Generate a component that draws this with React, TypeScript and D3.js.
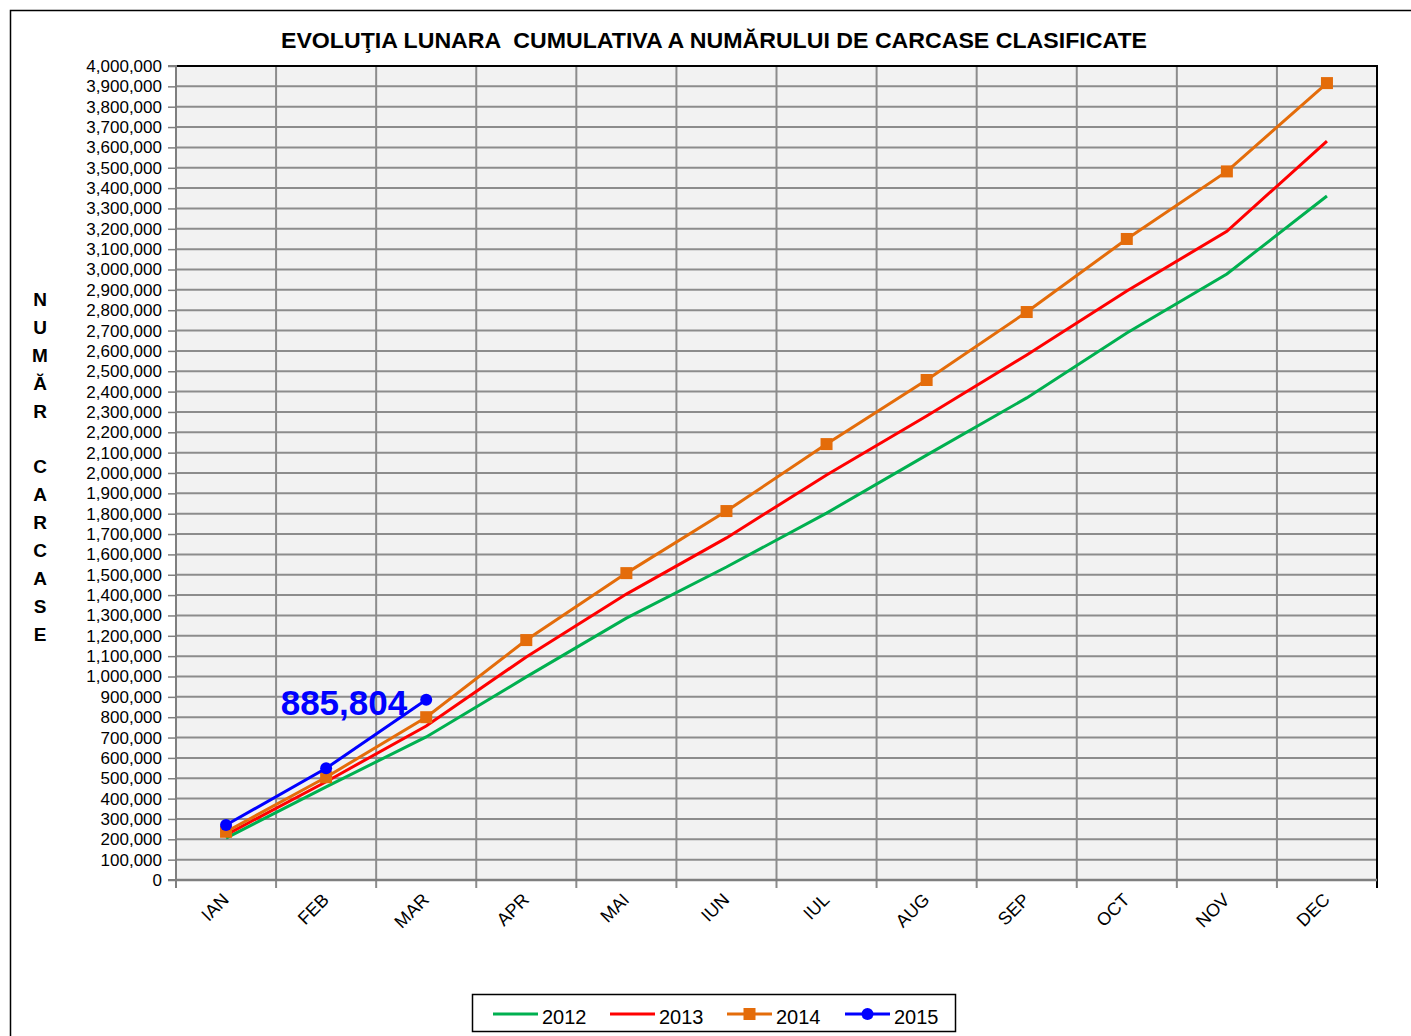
import React, { useEffect, useRef } from 'react';
import * as d3 from 'd3';

const months = ['IAN', 'FEB', 'MAR', 'APR', 'MAI', 'IUN', 'IUL', 'AUG', 'SEP', 'OCT', 'NOV', 'DEC'];

const values2012 = [206000, 458000, 703000, 998000, 1287000, 1538000, 1803000, 2088000, 2369000, 2688000, 2978000, 3361000];
const values2013 = [222000, 483000, 757000, 1096000, 1405000, 1681000, 1990000, 2280000, 2580000, 2894000, 3188000, 3631000];
const values2014 = [237000, 505000, 800000, 1179000, 1508000, 1813000, 2142000, 2457000, 2791000, 3150000, 3482000, 3916000];
const values2015 = [270000, 549000, 885804];

const yTicks = d3.range(0, 4000001, 100000);

const series = [
  { name: '2012', values: values2012, color: '#00b050', marker: 'none' },
  { name: '2013', values: values2013, color: '#ff0000', marker: 'none' },
  { name: '2014', values: values2014, color: '#e46c0a', marker: 'square' },
  { name: '2015', values: values2015, color: '#0000ff', marker: 'circle' },
];

const yLabel = ['N', 'U', 'M', 'Ă', 'R', '', 'C', 'A', 'R', 'C', 'A', 'S', 'E'];

const App = () => {
  const svgRef = useRef<SVGSVGElement>(null);

  useEffect(() => {
    const svg = d3.select(svgRef.current);
    svg.selectAll('*').remove();

    const width = 1411;
    const height = 1036;
    const plot = { left: 176, right: 1377, top: 66, bottom: 880 };
    const font = 'Arial, "Liberation Sans", sans-serif';

    // outer frame
    svg.append('rect').attr('width', width).attr('height', height).attr('fill', '#fff');
    svg.append('path')
      .attr('d', `M10.5,${height} V10.5 H${width}`)
      .attr('fill', 'none')
      .attr('stroke', '#000')
      .attr('stroke-width', 1.5);

    const x = d3.scaleBand()
      .domain(months)
      .range([plot.left, plot.right]);

    const y = d3.scaleLinear()
      .domain([0, 4000000])
      .range([plot.bottom, plot.top]);

    // plot background
    svg.append('rect')
      .attr('x', plot.left)
      .attr('y', plot.top)
      .attr('width', plot.right - plot.left)
      .attr('height', plot.bottom - plot.top)
      .attr('fill', '#f2f2f2');

    // horizontal grid
    svg.append('g')
      .selectAll('line')
      .data(yTicks.slice(1))
      .enter().append('line')
      .attr('x1', plot.left)
      .attr('x2', plot.right)
      .attr('y1', d => y(d))
      .attr('y2', d => y(d))
      .attr('stroke', '#8c8c8c')
      .attr('stroke-width', 2);

    // vertical grid + ticks
    const bounds = months.map(m => x(m) as number).concat([plot.right]);
    svg.append('g')
      .selectAll('line')
      .data(bounds.slice(1, -1))
      .enter().append('line')
      .attr('x1', d => d)
      .attr('x2', d => d)
      .attr('y1', plot.top)
      .attr('y2', plot.bottom + 8)
      .attr('stroke', '#8c8c8c')
      .attr('stroke-width', 2);

    // border top/right
    svg.append('path')
      .attr('d', `M${plot.left},${plot.top} H${plot.right} V${plot.bottom + 8}`)
      .attr('fill', 'none')
      .attr('stroke', '#000')
      .attr('stroke-width', 2);

    // y axis
    const yAxis = d3.axisLeft(y)
      .tickValues(yTicks)
      .tickSize(8)
      .tickPadding(6)
      .tickFormat(d => d3.format(',')(d as number));

    const ya = svg.append('g')
      .attr('transform', `translate(${plot.left},0)`)
      .call(yAxis);
    ya.select('.domain').attr('stroke', '#7f7f7f').attr('stroke-width', 2).attr('d', `M-8,${plot.bottom}H0V${plot.top}H-8`);
    ya.selectAll('.tick line').attr('stroke', '#7f7f7f').attr('stroke-width', 1.5);
    ya.selectAll('.tick text')
      .attr('font-family', font)
      .attr('font-size', 17)
      .attr('fill', '#000');

    // x axis line
    svg.append('line')
      .attr('x1', plot.left)
      .attr('x2', plot.right)
      .attr('y1', plot.bottom)
      .attr('y2', plot.bottom)
      .attr('stroke', '#7f7f7f')
      .attr('stroke-width', 2.5);
    svg.append('line')
      .attr('x1', plot.left)
      .attr('x2', plot.left)
      .attr('y1', plot.bottom)
      .attr('y2', plot.bottom + 8)
      .attr('stroke', '#7f7f7f')
      .attr('stroke-width', 2);

    // x labels
    svg.append('g')
      .selectAll('text')
      .data(months)
      .enter().append('text')
      .attr('transform', d => `translate(${(x(d) as number) + x.bandwidth() / 2 - 5},${plot.bottom + 12}) rotate(-45)`)
      .attr('text-anchor', 'end')
      .attr('dy', '0.7em')
      .attr('font-family', font)
      .attr('font-size', 18)
      .attr('fill', '#000')
      .text(d => d);

    // lines
    const cx = (i: number) => (x(months[i]) as number) + x.bandwidth() / 2;
    const line = d3.line<number>()
      .x((_, i) => cx(i))
      .y(d => y(d));

    series.forEach(s => {
      const g = svg.append('g');
      g.append('path')
        .datum(s.values)
        .attr('d', line)
        .attr('fill', 'none')
        .attr('stroke', s.color)
        .attr('stroke-width', 3);
      if (s.marker === 'square') {
        g.selectAll('rect')
          .data(s.values)
          .enter().append('rect')
          .attr('x', (_, i) => cx(i) - 6)
          .attr('y', d => y(d) - 6)
          .attr('width', 12)
          .attr('height', 12)
          .attr('fill', s.color);
      } else if (s.marker === 'circle') {
        g.selectAll('circle')
          .data(s.values)
          .enter().append('circle')
          .attr('cx', (_, i) => cx(i))
          .attr('cy', d => y(d))
          .attr('r', 6)
          .attr('fill', s.color);
      }
    });

    // data label
    const last = values2015.length - 1;
    svg.append('text')
      .attr('x', cx(last) - 19)
      .attr('y', y(values2015[last]) + 15)
      .attr('text-anchor', 'end')
      .attr('font-family', font)
      .attr('font-size', 35)
      .attr('font-weight', 'bold')
      .attr('fill', '#0000ff')
      .text(d3.format(',')(values2015[last]));

    // title
    svg.append('text')
      .attr('x', 281)
      .attr('y', 48)
      .attr('font-family', font)
      .attr('font-size', 22)
      .attr('font-weight', 'bold')
      .attr('fill', '#000')
      .attr('textLength', 866)
      .attr('lengthAdjust', 'spacingAndGlyphs')
      .attr('xml:space', 'preserve')
      .text('EVOLUŢIA LUNARA  CUMULATIVA A NUMĂRULUI DE CARCASE CLASIFICATE');

    // y axis title
    svg.append('g')
      .selectAll('text')
      .data(yLabel)
      .enter().append('text')
      .attr('x', 40)
      .attr('y', (_, i) => 306 + i * 27.9)
      .attr('text-anchor', 'middle')
      .attr('font-family', font)
      .attr('font-size', 19)
      .attr('font-weight', 'bold')
      .attr('fill', '#000')
      .text(d => d);

    // legend
    const legend = svg.append('g');
    legend.append('rect')
      .attr('x', 472.5)
      .attr('y', 994.5)
      .attr('width', 483)
      .attr('height', 37)
      .attr('fill', '#fff')
      .attr('stroke', '#000')
      .attr('stroke-width', 1.5);
    const legendX = [493, 610, 727, 845];
    series.forEach((s, i) => {
      const lx = legendX[i];
      const ly = 1014;
      legend.append('line')
        .attr('x1', lx)
        .attr('x2', lx + 45)
        .attr('y1', ly)
        .attr('y2', ly)
        .attr('stroke', s.color)
        .attr('stroke-width', 3);
      if (s.marker === 'square') {
        legend.append('rect')
          .attr('x', lx + 22.5 - 6)
          .attr('y', ly - 6)
          .attr('width', 12)
          .attr('height', 12)
          .attr('fill', s.color);
      } else if (s.marker === 'circle') {
        legend.append('circle')
          .attr('cx', lx + 22.5)
          .attr('cy', ly)
          .attr('r', 6)
          .attr('fill', s.color);
      }
      legend.append('text')
        .attr('x', lx + 49)
        .attr('y', ly + 10)
        .attr('font-family', font)
        .attr('font-size', 20)
        .attr('fill', '#000')
        .text(s.name);
    });
  }, []);

  return (
    <svg
      ref={svgRef}
      width={1411}
      height={1036}
      style={{ position: 'absolute', left: 0, top: 0, display: 'block' }}
    ></svg>
  );
};

export default App;
